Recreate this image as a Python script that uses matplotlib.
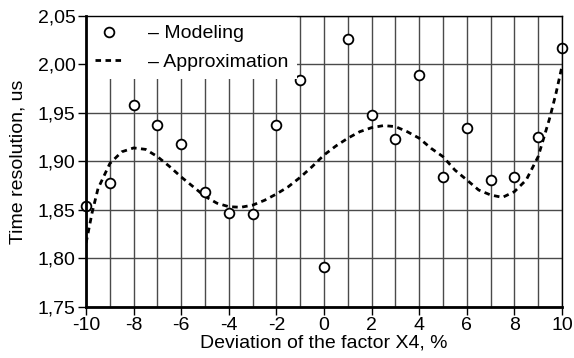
import matplotlib
matplotlib.use('Agg')
import matplotlib.pyplot as plt
from matplotlib.ticker import FuncFormatter, MultipleLocator

plt.rcParams['font.family'] = ['Liberation Sans', 'DejaVu Sans']
plt.rcParams['axes.unicode_minus'] = False

# modeling results
dev_x = [-10, -9, -8, -7, -6, -5, -4, -3, -2, -1, 0, 1, 2, 3, 4, 5, 6, 7, 8, 9, 10]
res_model = [1.854, 1.878, 1.958, 1.938, 1.918, 1.869, 1.847, 1.846, 1.938, 1.984,
             1.791, 2.026, 1.948, 1.923, 1.989, 1.884, 1.935, 1.881, 1.884, 1.925, 2.017]

# approximation curve
approx_x = [-10, -9.75, -9.5, -9, -8.5, -8, -7.5, -7, -6.5, -6, -5.5, -5, -4.5, -4,
            -3.5, -3, -2.5, -2, -1.5, -1, -0.5, 0, 0.5, 1, 1.5, 2, 2.5, 3, 3.5, 4,
            4.5, 5, 5.5, 6, 6.5, 7, 7.5, 8, 8.5, 9, 9.5, 9.75, 10]
approx_y = [1.816, 1.847, 1.872, 1.898, 1.910, 1.914, 1.9125, 1.905, 1.895, 1.884,
            1.874, 1.864, 1.857, 1.8534, 1.8528, 1.855, 1.860, 1.8665, 1.874, 1.8837,
            1.8947, 1.9067, 1.916, 1.924, 1.9307, 1.9349, 1.937, 1.936, 1.9307, 1.924,
            1.9136, 1.905, 1.8912, 1.881, 1.8706, 1.8655, 1.863, 1.8689, 1.881, 1.905,
            1.946, 1.9703, 1.998]

fig = plt.figure(figsize=(5.74, 3.58), dpi=100)
ax = fig.add_axes([0.150, 0.1425, 0.829, 0.8128])

ax.plot(approx_x, approx_y, color='black', lw=2.0, ls=(0, (2, 1.6)),
        label='– Approximation', zorder=3)
ax.plot(dev_x, res_model, 'o', ms=7, mfc='white', mec='black', mew=1.3,
        ls='none', label='– Modeling', zorder=4, clip_on=False)

ax.set_xlim(-10, 10)
ax.set_ylim(1.75, 2.05)
ax.xaxis.set_major_locator(MultipleLocator(2))
ax.xaxis.set_minor_locator(MultipleLocator(1))
ax.yaxis.set_major_locator(MultipleLocator(0.05))
ax.yaxis.set_major_formatter(FuncFormatter(lambda v, p: f'{v:.2f}'.replace('.', ',')))

ax.grid(True, which='both', axis='x', color='#4a4a4a', lw=1)
ax.grid(True, which='major', axis='y', color='#4a4a4a', lw=1)
ax.set_axisbelow(True)

for side in ['left', 'bottom']:
    ax.spines[side].set_linewidth(2)
for side in ['top', 'right']:
    ax.spines[side].set_linewidth(1)
# keep the frame above the legend background
for sp in ax.spines.values():
    sp.set_zorder(6)

ax.tick_params(which='major', direction='out', length=6, width=1, labelsize=14, pad=1.5)
ax.tick_params(which='minor', length=0)

ax.set_xlabel('Deviation of the factor X4, %', fontsize=14, labelpad=0)
ax.set_ylabel('Time resolution, us', fontsize=14, labelpad=8)

handles, labels = ax.get_legend_handles_labels()
leg = ax.legend(handles[::-1], labels[::-1], loc='upper left', fontsize=14,
                frameon=True, fancybox=False, framealpha=1, edgecolor='none',
                facecolor='white', handlelength=1.45, handletextpad=1.3,
                borderaxespad=0.0, borderpad=0.45, labelspacing=0.55)
leg.set_zorder(5)

fig.savefig('out.png', dpi=100)
